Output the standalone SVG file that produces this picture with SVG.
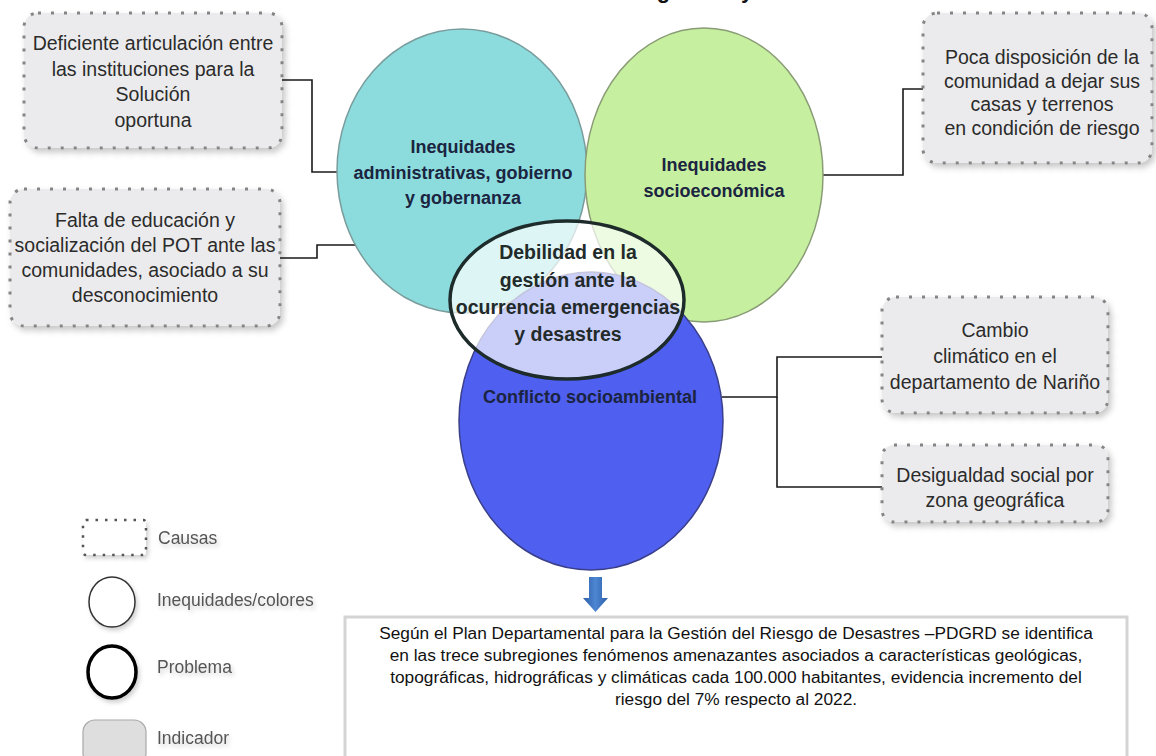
<svg xmlns="http://www.w3.org/2000/svg" width="1156" height="756" viewBox="0 0 1156 756">
  <style>
    .cause { fill: #ebebed; stroke: #858585; stroke-width: 3; stroke-dasharray: 3 10; filter: url(#shadow); }
    .ctext { font-family: "Liberation Sans", Arial, sans-serif; font-size: 19.5px; fill: #2b2b2b; text-anchor: middle; }
    .itext { font-family: "Liberation Sans", Arial, sans-serif; font-size: 18px; font-weight: bold; fill: #1b2440; text-anchor: middle; }
    .ptext { font-family: "Liberation Sans", Arial, sans-serif; font-size: 19.5px; font-weight: bold; fill: #222a2a; text-anchor: middle; }
    .ltext { font-family: "Liberation Sans", Arial, sans-serif; font-size: 17.5px; fill: #555; filter: url(#soft); }
    .btext { font-family: "Liberation Sans", Arial, sans-serif; font-size: 17.3px; fill: #111; text-anchor: middle; }
    .conn { fill: none; stroke: #1a1a1a; stroke-width: 1.6; }
  </style>
  <defs>
    <filter id="shadow" x="-10%" y="-10%" width="130%" height="140%">
      <feDropShadow dx="3" dy="4" stdDeviation="3" flood-color="#000" flood-opacity="0.22"/>
    </filter>
    <filter id="soft" x="-10%" y="-30%" width="130%" height="180%">
      <feDropShadow dx="2" dy="3" stdDeviation="2" flood-color="#000" flood-opacity="0.18"/>
    </filter>
    <linearGradient id="arrowFill" x1="0" y1="0" x2="1" y2="0">
      <stop offset="0" stop-color="#2f5fa8"/>
      <stop offset="0.5" stop-color="#4d86d2"/>
      <stop offset="1" stop-color="#2f5fa8"/>
    </linearGradient>
  </defs>

  <rect width="1156" height="756" fill="#ffffff"/>

  <!-- heading line, mostly outside the page -->
  <text x="705" y="-2" font-family="Liberation Sans, Arial, sans-serif" font-size="22" font-weight="bold" fill="#111" text-anchor="middle">gestión y</text>

  <!-- connectors -->
  <g id="connectors">
    <path class="conn" d="M282,80 H312 V172 H338"/>
    <path class="conn" d="M280,258 H317 V245 H356"/>
    <path class="conn" d="M923,89 H903 V175 H822"/>
    <path class="conn" d="M722,397 H777 V357 H882"/>
    <path class="conn" d="M777,397 V487 H882"/>
  </g>

  <!-- inequity circles -->
  <g id="inequidad-administrativa">
    <ellipse cx="462" cy="171" rx="125" ry="142" fill="#8cdcde" stroke="#7a9c9c" stroke-width="1.5"/>
    <text class="itext"><tspan x="463" y="153">Inequidades</tspan><tspan x="463" y="179">administrativas, gobierno</tspan><tspan x="463" y="204">y gobernanza</tspan></text>
  </g>
  <g id="inequidad-socioeconomica">
    <ellipse cx="704" cy="175" rx="119" ry="147" fill="#c6f0a0" stroke="#8a9c76" stroke-width="1.5"/>
    <text class="itext"><tspan x="714" y="171">Inequidades</tspan><tspan x="714" y="197">socioeconómica</tspan></text>
  </g>
  <g id="conflicto-socioambiental">
    <ellipse cx="591" cy="421" rx="132" ry="149" fill="#4f5fef" stroke="#3a3f8a" stroke-width="1.5"/>
    <text class="itext" x="590" y="403">Conflicto socioambiental</text>
  </g>

  <!-- central problem -->
  <g id="problema">
    <ellipse cx="567" cy="300" rx="117" ry="79" fill="#ffffff" fill-opacity="0.7" stroke="#1e2b2b" stroke-width="3.5"/>
    <text class="ptext"><tspan x="568" y="259">Debilidad en la</tspan><tspan x="568" y="287">gestión ante la</tspan><tspan x="568" y="314">ocurrencia emergencias</tspan><tspan x="568" y="341">y desastres</tspan></text>
  </g>

  <!-- causes -->
  <g id="causa-articulacion">
    <rect class="cause" x="24" y="13" width="258" height="135" rx="14"/>
    <text class="ctext"><tspan x="153" y="50">Deficiente articulación entre</tspan><tspan x="153" y="75.5">las instituciones para la</tspan><tspan x="153" y="101">Solución</tspan><tspan x="153" y="126.5">oportuna</tspan></text>
  </g>
  <g id="causa-educacion">
    <rect class="cause" x="10" y="189" width="270" height="137" rx="14"/>
    <text class="ctext"><tspan x="145" y="227">Falta de educación y</tspan><tspan x="145" y="252">socialización del POT ante las</tspan><tspan x="145" y="277">comunidades, asociado a su</tspan><tspan x="145" y="302">desconocimiento</tspan></text>
  </g>
  <g id="causa-disposicion">
    <rect class="cause" x="923" y="13" width="229" height="150" rx="14"/>
    <text class="ctext"><tspan x="1042" y="64">Poca disposición de la</tspan><tspan x="1042" y="87.5">comunidad a dejar sus</tspan><tspan x="1042" y="111">casas y terrenos</tspan><tspan x="1042" y="134.5">en condición de riesgo</tspan></text>
  </g>
  <g id="causa-clima">
    <rect class="cause" x="882" y="297" width="226" height="116" rx="14"/>
    <text class="ctext"><tspan x="995" y="337">Cambio</tspan><tspan x="995" y="363">climático en el</tspan><tspan x="995" y="389">departamento de Nariño</tspan></text>
  </g>
  <g id="causa-desigualdad">
    <rect class="cause" x="882" y="445" width="226" height="77" rx="12"/>
    <text class="ctext"><tspan x="995" y="482">Desigualdad social por</tspan><tspan x="995" y="507">zona geográfica</tspan></text>
  </g>

  <!-- arrow to indicator -->
  <g id="flecha">
    <path d="M589,577 H602 V598 H608 L595.5,612 L583,598 H589 Z" fill="url(#arrowFill)"/>
  </g>

  <!-- indicator -->
  <g id="indicador">
    <rect x="345" y="617" width="782" height="160" fill="#ffffff" stroke="#d4d4d4" stroke-width="3"/>
    <text class="btext"><tspan x="736" y="639">Según el Plan Departamental para la Gestión del Riesgo de Desastres –PDGRD se identifica</tspan><tspan x="736" y="661">en las trece subregiones fenómenos amenazantes asociados a características geológicas,</tspan><tspan x="736" y="683">topográficas, hidrográficas y climáticas cada 100.000 habitantes, evidencia incremento del</tspan><tspan x="736" y="705">riesgo del 7% respecto al 2022.</tspan></text>
  </g>

  <!-- legend -->
  <g id="leyenda">
    <rect x="83" y="520" width="63" height="35" rx="3" fill="#ffffff" stroke="#555" stroke-width="2.5" stroke-dasharray="2.5 7" filter="url(#soft)"/>
    <text class="ltext" x="158" y="544">Causas</text>
    <ellipse cx="112" cy="602" rx="23" ry="25" fill="#ffffff" stroke="#333" stroke-width="1.5" filter="url(#soft)"/>
    <text class="ltext" x="157" y="606">Inequidades/colores</text>
    <ellipse cx="112" cy="672" rx="24" ry="26" fill="#ffffff" stroke="#000" stroke-width="3.5" filter="url(#soft)"/>
    <text class="ltext" x="157" y="673">Problema</text>
    <rect x="83" y="720" width="63" height="45" rx="12" fill="#dedede" stroke="#a8a8a8" stroke-width="1.2"/>
    <text class="ltext" x="157" y="744">Indicador</text>
  </g>
</svg>
